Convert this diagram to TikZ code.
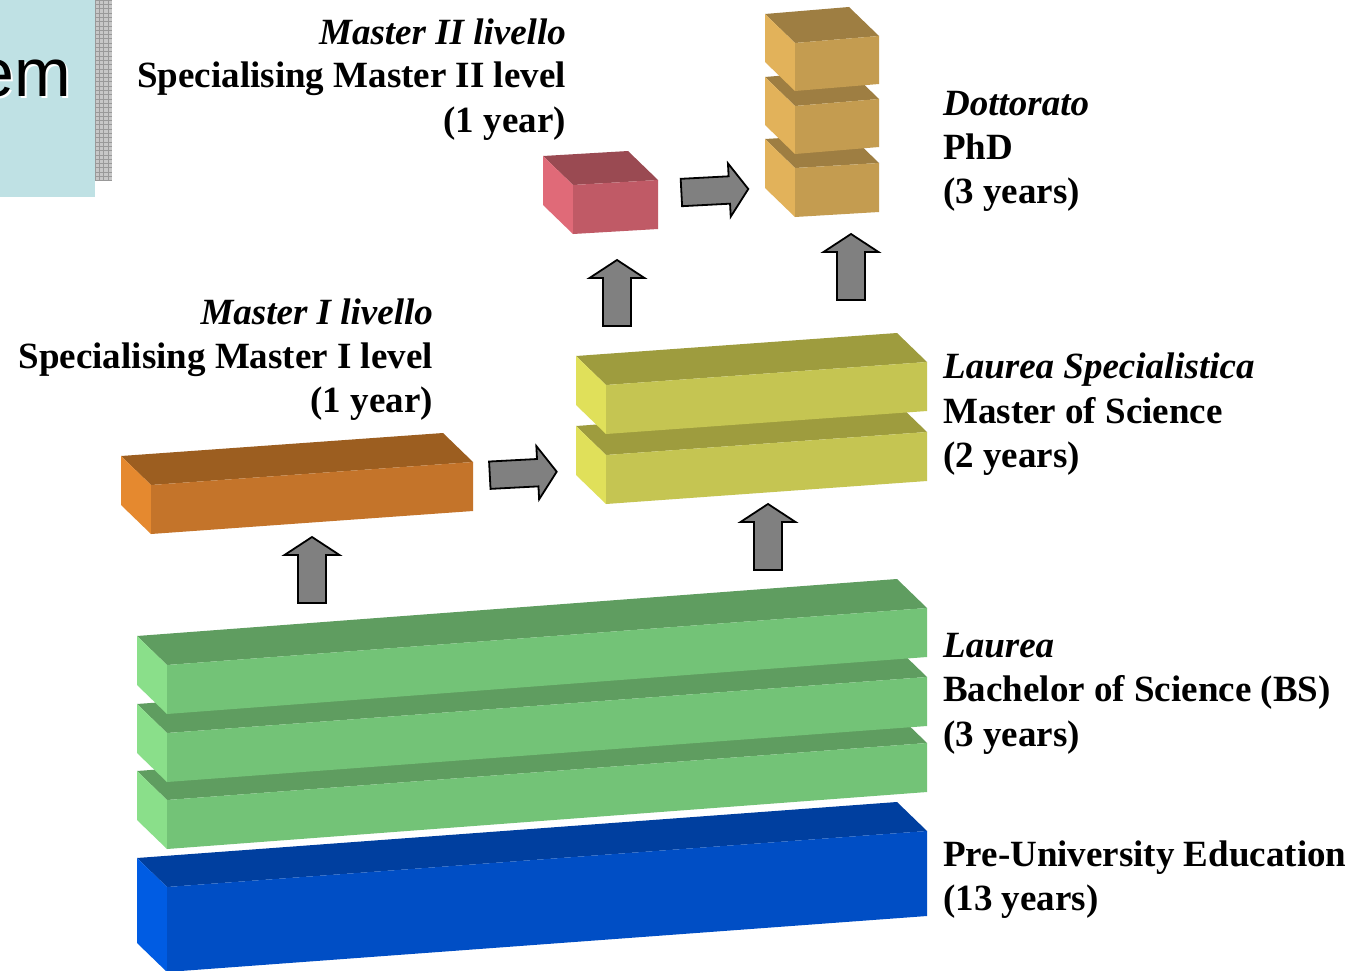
\documentclass[tikz,border=0pt]{standalone}
\usepackage{fontspec}
\setmainfont{Liberation Serif}
\newfontfamily\arialf{Liberation Sans}
\usetikzlibrary{calc}
\definecolor{gtop}{HTML}{5F9D60}\definecolor{gfront}{HTML}{73C377}\definecolor{gleft}{HTML}{8ADF8A}
\definecolor{btop}{HTML}{003F9F}\definecolor{bfront}{HTML}{004EC5}\definecolor{bleft}{HTML}{005CE3}
\definecolor{ytop}{HTML}{9E9C3E}\definecolor{yfront}{HTML}{C5C552}\definecolor{yleft}{HTML}{E0E05A}
\definecolor{otop}{HTML}{9C5E20}\definecolor{ofront}{HTML}{C4742A}\definecolor{oleft}{HTML}{E5892F}
\definecolor{rtop}{HTML}{9A4A52}\definecolor{rfront}{HTML}{C05A66}\definecolor{rleft}{HTML}{E06A78}
\definecolor{ctop}{HTML}{9E7E42}\definecolor{cfront}{HTML}{C49C50}\definecolor{cleft}{HTML}{E2B25A}
\definecolor{paleblue}{HTML}{BFE1E4}
\definecolor{arrgray}{HTML}{808080}
% #1 x1, #2 y1 (front top-left), #3 x2, #4 y2 (front top-right), #5 height, #6 colour prefix
\newcommand\drawblock[6]{%
  \fill[#6top] (#1,#2) -- (#3,#4) -- ++(-30,-29) -- ++({#1-#3},{#2-#4}) -- cycle;
  \fill[#6left] (#1,#2) -- ++(0,#5) -- ++(-30,-29) -- ++(0,-#5) -- cycle;
  \fill[#6front] (#1,#2) -- (#3,#4) -- ++(0,#5) -- ++({#1-#3},{#2-#4}) -- cycle;
}
\newcommand\uparr[3]{%
  \coordinate (#1) at (#2,#3);
  \draw[fatarrow] (#1) -- ++(27.5,18) -- ++(-13.5,0) -- ++(0,48) -- ++(-28,0) -- ++(0,-48) -- ++(-13.5,0) -- cycle;
}
\newcommand\rarr[4]{%
  \coordinate (#1) at (#2,#3);
  \begin{scope}[shift={(#1)},rotate=#4]
    \draw[fatarrow] (0,0) -- (-19,-26.7) -- (-19,-13.7) -- (-67,-13.7) -- (-67,13.7) -- (-19,13.7) -- (-19,26.7) -- cycle;
  \end{scope}
}
\begin{document}
\begin{tikzpicture}[x=1pt,y=-1pt,
  fatarrow/.style={draw=black,fill=arrgray,line width=1.8pt,line join=miter},
  lbl/.style={inner sep=0pt,font=\fontsize{37}{44}\selectfont\bfseries},
  ilbl/.style={inner sep=0pt,font=\fontsize{37}{44}\selectfont\bfseries\itshape}]
\useasboundingbox (0,0) rectangle (1363,971);
\fill[white] (0,0) rectangle (1363,971);

% top-left fragment of a slide title
\fill[paleblue] (0,0) rectangle (95,197);
\fill[black!22] (95,0) rectangle (112,181);
\foreach \gx in {95,99.3,...,112} \draw[black!40,line width=0.5pt] (\gx,0) -- (\gx,181);
\foreach \gy in {0,4.3,...,181} \draw[black!40,line width=0.5pt] (95,\gy) -- (112,\gy);
\begin{scope}
  \clip (0,0) rectangle (95,197);
  \node[inner sep=0pt,anchor=base east,text=white,font=\arialf\fontsize{68}{80}\selectfont] (emshadow) at (73.5,99) {em};
  \node[inner sep=0pt,anchor=base east,font=\arialf\fontsize{68}{80}\selectfont] (emtext) at (71.5,97) {em};
\end{scope}

% Pre-university
\drawblock{167}{887}{927}{831}{85}{b}
% Laurea (3 bars)
\drawblock{167}{800}{927}{743}{49}{g}
\drawblock{167}{733}{927}{677}{49}{g}
\drawblock{167}{665}{927}{608}{49}{g}
% Master I livello
\drawblock{151}{485}{473}{462}{49}{o}
% Laurea specialistica (2 bars)
\drawblock{606}{455}{927}{432}{49}{y}
\drawblock{606}{385}{927}{362}{49}{y}
% Master II livello
\drawblock{573}{185}{658}{180}{49}{r}
% Dottorato (3 cubes)
\drawblock{795}{168}{879}{163}{49}{c}
\drawblock{795}{106}{879}{99}{48}{c}
\drawblock{795}{43}{879}{36}{48}{c}

% arrows
\uparr{a1}{312}{537}
\uparr{a2}{617}{260}
\uparr{a3}{768}{504}
\uparr{a4}{851}{234}
\rarr{a5}{556.7}{471.7}{3}
\rarr{a6}{748.3}{189}{3}

% labels
\node[ilbl,anchor=base east] (m2a) at (566,45) {Master II livello};
\node[lbl,anchor=base east] (m2b) at (566,88) {Specialising Master II level};
\node[lbl,anchor=base east] (m2c) at (566,133) {(1 year)};

\node[ilbl,anchor=base east] (m1a) at (433,324) {Master I livello};
\node[lbl,anchor=base east] (m1b) at (433,368) {Specialising Master I level};
\node[lbl,anchor=base east] (m1c) at (433,412) {(1 year)};

\node[ilbl,anchor=base west] (da) at (943,116) {Dottorato};
\node[lbl,anchor=base west] (db) at (943,160) {PhD};
\node[lbl,anchor=base west] (dc) at (943,204) {(3 years)};

\node[ilbl,anchor=base west] (lsa) at (943,378) {Laurea Specialistica};
\node[lbl,anchor=base west] (lsb) at (943,423) {Master of Science};
\node[lbl,anchor=base west] (lsc) at (943,467) {(2 years)};

\node[ilbl,anchor=base west] (la) at (943,657) {Laurea};
\node[lbl,anchor=base west] (lb) at (943,701) {Bachelor of Science (BS)};
\node[lbl,anchor=base west] (lc) at (943,746) {(3 years)};

\node[lbl,anchor=base west] (pa) at (943,866) {Pre-University Education};
\node[lbl,anchor=base west] (pb) at (943,910) {(13 years)};
\end{tikzpicture}
\end{document}
